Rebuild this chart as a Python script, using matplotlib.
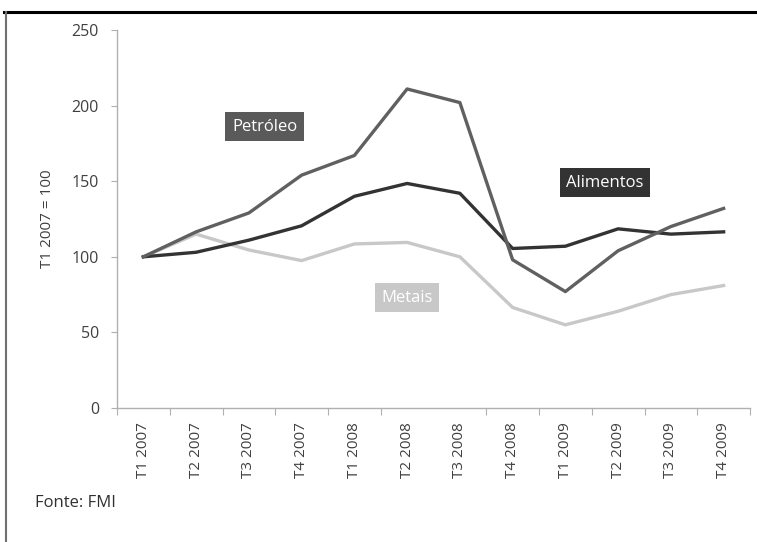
import matplotlib
matplotlib.use('Agg')
import matplotlib.pyplot as plt
from matplotlib.lines import Line2D

plt.rcParams['font.family'] = ['Open Sans', 'DejaVu Sans']

# dados (T1 2007 = 100)
trimestres = ['T1 2007', 'T2 2007', 'T3 2007', 'T4 2007',
              'T1 2008', 'T2 2008', 'T3 2008', 'T4 2008',
              'T1 2009', 'T2 2009', 'T3 2009', 'T4 2009']
petroleo = [100, 116.5, 129, 154, 167, 211, 202, 98, 77, 104, 120, 132]
alimentos = [100, 103, 111, 120.5, 140, 148.5, 142, 105.5, 107, 118.5, 115, 116.5]
metais = [100, 115, 104.5, 97.5, 108.5, 109.5, 100, 66.5, 55, 64, 75, 81]
y_ticks = [0, 50, 100, 150, 200, 250]

W, H = 757, 542
fig = plt.figure(figsize=(W / 100, H / 100), dpi=100)
ax = fig.add_axes([117 / W, 1 - 408 / H, (750 - 117) / W, (408 - 30) / H])

x = range(len(trimestres))
ax.plot(x, metais, color='#c8c8c8', lw=2.4, solid_joinstyle='round')
ax.plot(x, alimentos, color='#333333', lw=2.4, solid_joinstyle='round')
ax.plot(x, petroleo, color='#606060', lw=2.4, solid_joinstyle='round')

ax.set_xlim(-0.5, 11.5)
ax.set_ylim(0, 250)
ax.set_yticks(y_ticks)

# marcas entre categorias, rótulos no centro
fronteiras = [i - 0.5 for i in range(13) if i != 6]
ax.set_xticks(fronteiras)
ax.set_xticklabels([])
ax.set_xticks(list(x), minor=True)
ax.set_xticklabels(trimestres, minor=True, rotation=90, fontsize=11, color='#404040')
ax.tick_params(axis='x', which='major', length=5, color='#b0b0b0', direction='out')
ax.tick_params(axis='x', which='minor', length=0, pad=10)
ax.tick_params(axis='y', length=4, color='#b0b0b0', labelsize=11.5,
               labelcolor='#404040', pad=9)

for s in ['top', 'right']:
    ax.spines[s].set_visible(False)
for s in ['left', 'bottom']:
    ax.spines[s].set_color('#b0b0b0')
    ax.spines[s].set_linewidth(1)

ax.set_ylabel('T1 2007 = 100', fontsize=11, color='#404040', labelpad=12)

caixa = dict(boxstyle='square,pad=0.4', ec='none')
ax.text(2.3, 186, 'Petróleo', color='white', fontsize=12, ha='center', va='center',
        bbox=dict(fc='#5a5a5a', **caixa))
ax.text(8.75, 149, 'Alimentos', color='white', fontsize=12, ha='center', va='center',
        bbox=dict(fc='#333333', **caixa))
ax.text(5.0, 73, 'Metais', color='white', fontsize=12, ha='center', va='center',
        bbox=dict(fc='#c8c8c8', **caixa))

fig.text(35 / W, 1 - 503 / H, 'Fonte: FMI', fontsize=12, color='#303030', va='center')

# moldura
fig.add_artist(Line2D([4 / W, 1], [1 - 12 / H] * 2, color='black', lw=2.2))
fig.add_artist(Line2D([6 / W] * 2, [0, 1 - 12 / H], color='#707070', lw=1.5))

fig.savefig('out.png', dpi=100)
